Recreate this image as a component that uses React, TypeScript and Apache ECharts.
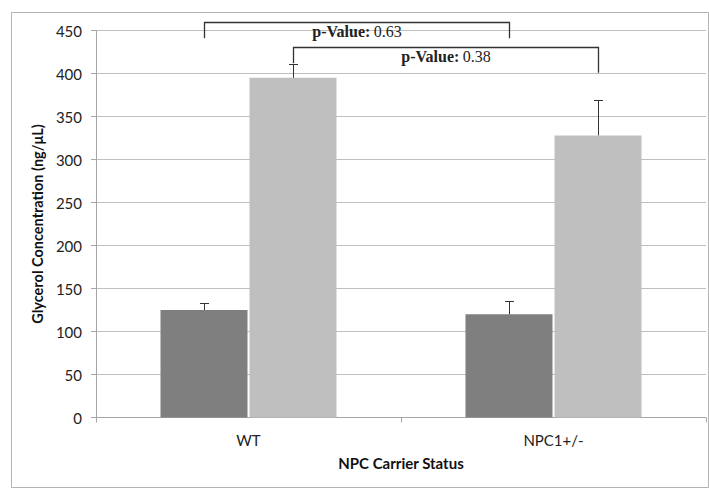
import React, { useEffect, useRef } from "react";
import * as echarts from "echarts";

// Categories and groups
const categories = ["WT", "NPC1+/-"];
const darkValues = [125, 120];
const lightValues = [395, 328];
// Upward (plus) error bar lengths
const darkErrors = [8, 16];
const lightErrors = [16, 41];

// Significance brackets: which bar in each category (series index), heights in data units
const bracketSeries = [0, 1];
const bracketTop = [459.5, 431];
const bracketLeftEnd = [441, 412];
const bracketRightEnd = [441, 401];
const pValues = ["0.63", "0.38"];

const yTicks = [0, 50, 100, 150, 200, 250, 300, 350, 400, 450];

const BAR_WIDTH = 87;
const BAR_GAP_PX = 2;
const BAR_OFFSET = (BAR_WIDTH + BAR_GAP_PX) / 2;

export default function App() {
  const ref = useRef<HTMLDivElement>(null);

  useEffect(() => {
    if (!ref.current) return;
    const chart = echarts.init(ref.current, null, { renderer: "svg" });

    const errorData = [
      ...darkValues.map((v, i) => [i, v, v + darkErrors[i], -1]),
      ...lightValues.map((v, i) => [i, v, v + lightErrors[i], 1]),
    ];

    const bracketData = bracketSeries.map((s, i) => [
      s,
      bracketTop[i],
      bracketLeftEnd[i],
      bracketRightEnd[i],
      i,
    ]);

    const axisFont = "Lato, 'Open Sans', sans-serif";
    const serif = "'Liberation Serif', 'DejaVu Serif', serif";

    chart.setOption({
      animation: false,
      backgroundColor: "#ffffff",
      grid: { left: 96, right: 3, top: 30.5, bottom: 71.5 },
      graphic: [
        {
          type: "rect",
          shape: { x: 11.5, y: 12.5, width: 697, height: 475 },
          style: { fill: "none", stroke: "#b4b4b4", lineWidth: 1 },
          silent: true,
          z: -10,
        },
      ],
      xAxis: {
        type: "category",
        data: categories,
        axisLine: { lineStyle: { color: "#a6a6a6" } },
        axisTick: { show: true, length: 5, lineStyle: { color: "#a6a6a6" } },
        axisLabel: { color: "#222", fontSize: 15, fontFamily: axisFont, margin: 15 },
        name: "NPC Carrier Status",
        nameLocation: "middle",
        nameGap: 38,
        nameTextStyle: { color: "#111", fontSize: 15, fontWeight: "bold", fontFamily: axisFont },
      },
      yAxis: {
        type: "value",
        min: 0,
        max: 450,
        interval: 50,
        axisLine: { show: true, lineStyle: { color: "#a6a6a6" } },
        axisTick: { show: true, length: 5, inside: false, lineStyle: { color: "#a6a6a6" } },
        axisLabel: {
          color: "#222",
          fontSize: 15,
          fontFamily: axisFont,
          margin: 14,
          formatter: (v: number) => (yTicks.includes(v) ? String(v) : ""),
        },
        splitLine: { lineStyle: { color: "#bfbfbf", width: 1 } },
        name: "Glycerol Concentration (ng/μL)",
        nameLocation: "middle",
        nameGap: 50,
        nameTextStyle: { color: "#111", fontSize: 14.5, fontWeight: "bold", fontFamily: axisFont },
      },
      series: [
        {
          type: "bar",
          data: darkValues,
          barWidth: BAR_WIDTH,
          barGap: `${(BAR_GAP_PX / BAR_WIDTH) * 100}%`,
          itemStyle: { color: "#7f7f7f" },
        },
        {
          type: "bar",
          data: lightValues,
          barWidth: BAR_WIDTH,
          itemStyle: { color: "#bfbfbf" },
        },
        {
          type: "custom",
          data: errorData,
          z: 5,
          renderItem: (params: any, api: any) => {
            const cat = api.value(0);
            const side = api.value(3);
            const base = api.coord([cat, api.value(1)]);
            const top = api.coord([cat, api.value(2)]);
            const x = Math.round(base[0] + side * BAR_OFFSET) + 0.5;
            const capHalf = 4.5;
            const yTop = Math.round(top[1]) + 0.5;
            return {
              type: "group",
              children: [
                {
                  type: "line",
                  shape: { x1: x, y1: base[1], x2: x, y2: yTop },
                  style: { stroke: "#333", lineWidth: 1 },
                },
                {
                  type: "line",
                  shape: { x1: x - capHalf, y1: yTop, x2: x + capHalf, y2: yTop },
                  style: { stroke: "#333", lineWidth: 1 },
                },
              ],
            };
          },
        },
        {
          type: "custom",
          data: bracketData,
          clip: false,
          z: 6,
          renderItem: (params: any, api: any) => {
            const s = api.value(0);
            const idx = api.value(4);
            const side = s === 0 ? -1 : 1;
            const left = api.coord([0, api.value(1)]);
            const right = api.coord([1, api.value(1)]);
            const lEnd = api.coord([0, api.value(2)]);
            const rEnd = api.coord([1, api.value(3)]);
            const xl = Math.round(left[0] + side * BAR_OFFSET) + 0.5;
            const xr = Math.round(right[0] + side * BAR_OFFSET) + 0.5;
            const yt = Math.round(left[1]) + 0.5;
            return {
              type: "group",
              children: [
                {
                  type: "polyline",
                  shape: {
                    points: [
                      [xl, lEnd[1]],
                      [xl, yt],
                      [xr, yt],
                      [xr, rEnd[1]],
                    ],
                  },
                  style: { stroke: "#333", lineWidth: 1.3, fill: "none" },
                },
                {
                  type: "text",
                  x: (xl + xr) / 2,
                  y: yt + 1,
                  style: {
                    text: `{b|p-Value:} {n|${pValues[idx]}}`,
                    align: "center",
                    verticalAlign: "top",
                    rich: {
                      b: { fontFamily: serif, fontWeight: "bold", fontSize: 16, fill: "#222" },
                      n: { fontFamily: serif, fontSize: 16, fill: "#222" },
                    },
                  },
                },
              ],
            };
          },
        },
      ],
    });

    return () => chart.dispose();
  }, []);

  return (
    <div
      ref={ref}
      style={{ position: "absolute", left: 0, top: 0, width: 709, height: 489 }}
    />
  );
}
